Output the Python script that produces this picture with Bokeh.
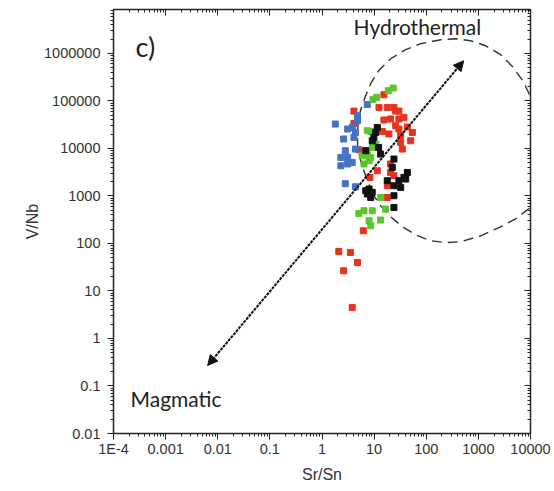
import numpy as np
from bokeh.plotting import figure
from bokeh.models import (FixedTicker, CustomJSTickFormatter, LogAxis, Arrow,
                          NormalHead, Label, Range1d)
from bokeh.embed import file_html
from bokeh.resources import INLINE

# ---------------- data ----------------
x_tick_exps = [-4, -3, -2, -1, 0, 1, 2, 3, 4]
x_tick_labels = ["1E-4", "0.001", "0.01", "0.1", "1", "10", "100", "1000", "10000"]
y_tick_exps = [-2, -1, 0, 1, 2, 3, 4, 5, 6]
y_tick_labels = ["0.01", "0.1", "1", "10", "100", "1000", "10000", "100000", "1000000"]

blue_x = [7.4, 4.8, 4.8, 3.8, 4.4, 3.1, 1.8, 2.6, 4.1, 4.4, 2.8, 3.1, 2.3, 3.8, 3.1, 2.3, 2.8, 4.4]
blue_y = [84000, 48700, 38300, 27700, 21700, 25600, 32600, 15800, 17100, 9700, 8950, 6470,
          6470, 5070, 4700, 4320, 1810, 1560]

red_x = [15.4, 4.1, 12.4, 17.9, 24.0, 29.9, 15.4, 20.7, 29.9, 37.3, 25.9, 29.9, 43.4, 14.4,
         19.2, 32.3, 54.1, 50.2, 32.3, 34.8, 4.1, 20.7, 24.0, 11.5, 20.7, 17.9, 6.2, 2.1,
         3.5, 4.8, 2.6, 3.8, 25.9, 5.1, 8.3, 17.9]
red_y = [135000, 61000, 73000, 73000, 73000, 61000, 39600, 41600, 41600, 45000, 30100, 25600,
         28200, 22800, 20100, 18500, 21700, 14500, 13400, 9700, 33600, 3120, 2660, 3390, 4700,
         930, 185, 67.9, 64.7, 39.8, 26.6, 4.5, 61000, 9400, 2450, 1640]

green_x = [23.3, 18.7, 11.2, 9.5, 7.4, 8.8, 10.7, 9.2, 6.9, 7.4, 5.9, 8.6, 8.0, 6.4, 13.3,
           9.2, 6.4, 5.1, 8.0, 8.6, 13.3, 16.6]
green_y = [187000, 164000, 119000, 108000, 23600, 22800, 12400, 10500, 8950, 7370, 7020, 6470,
           5510, 4700, 930, 488, 488, 428, 301, 236, 311, 530]

black_x = [11.5, 10.7, 9.9, 9.2, 13.3, 6.9, 24.0, 22.3, 43.4, 37.3, 29.9, 40.3, 17.9, 24.0,
           6.9, 8.0, 9.2, 7.4, 8.6, 24.0, 24.0, 32.3, 12.2]
black_y = [27700, 21700, 17100, 14500, 7620, 8950, 5980, 3980, 3120, 2450, 2090, 2270, 2090,
           1640, 1290, 1400, 1190, 1100, 930, 1010, 573, 1510, 10500]

# hydrothermal field outline (dashed)
field_x = [9.36, 6.87, 5.51, 4.82, 4.82, 5.04, 5.75, 6.87, 8.57, 12.2, 20.7, 40.3, 78.1, 189,
           367, 712, 1380, 2680, 4550, 7080, 9230, 11000, 15700, 17100, 14400, 9230, 5200,
           2680, 1110, 457, 236, 121, 62.7, 35.2, 20.7, 13.3, 9.36]
field_y = [1110, 2660, 5510, 11400, 23600, 44300, 75500, 128000, 230000, 432000, 773000,
           1.2e6, 1.6e6, 1.94e6, 2.04e6, 1.85e6, 1.45e6, 940000, 525000, 266000, 149000,
           79300, 23600, 5510, 1290, 538, 331, 224, 145, 109, 104, 114, 152, 224, 365, 622, 1110]

# magmatic -> hydrothermal trend arrow
arrow_start = (0.0064, 0.27)
arrow_end = (522, 7.0e5)

# ---------------- figure ----------------
p = figure(x_axis_type="log", y_axis_type="log",
           x_range=Range1d(1e-4, 1e4), y_range=Range1d(0.01, 8.4e6),
           frame_width=417, frame_height=424,
           min_border_left=113, min_border_right=24, min_border_top=9, min_border_bottom=50,
           output_backend="svg", toolbar_location=None, background_fill_color="white",
           border_fill_color="white")
p.grid.visible = False
p.outline_line_color = "#222222"

def minor_list(exps):
    return [k * 10.0 ** e for e in range(min(exps) - 1, max(exps) + 2) for k in range(2, 10)]

xt = FixedTicker(ticks=[10.0 ** e for e in x_tick_exps], minor_ticks=minor_list(x_tick_exps))
yt = FixedTicker(ticks=[10.0 ** e for e in y_tick_exps], minor_ticks=minor_list(y_tick_exps))

fmt_code = """
const e = Math.round(Math.log10(tick));
const i = exps.indexOf(e);
return i >= 0 ? labels[i] : "";
"""
xf = CustomJSTickFormatter(args=dict(exps=x_tick_exps, labels=x_tick_labels), code=fmt_code)
yf = CustomJSTickFormatter(args=dict(exps=y_tick_exps, labels=y_tick_labels), code=fmt_code)

for ax, tk, fm in ((p.xaxis[0], xt, xf), (p.yaxis[0], yt, yf)):
    ax.ticker = tk
    ax.formatter = fm
    ax.axis_line_color = "#222222"
    ax.axis_line_width = 1.5
    ax.major_tick_line_color = "#222222"
    ax.minor_tick_line_color = "#222222"
    ax.major_tick_out = 6
    ax.major_tick_in = 0
    ax.minor_tick_out = 3
    ax.minor_tick_in = 0
    ax.major_label_text_font = "Liberation Sans"
    ax.major_label_text_font_size = "14.5px"
    ax.major_label_text_color = "#333333"
    ax.axis_label_text_font = "Liberation Sans"
    ax.axis_label_text_font_size = "16px"
    ax.axis_label_text_font_style = "normal"
    ax.axis_label_text_color = "#333333"

p.xaxis.axis_label = "Sr/Sn"
p.yaxis.axis_label = "V/Nb"
p.xaxis.major_label_standoff = 1
p.yaxis.major_label_standoff = 7
p.xaxis.axis_label_standoff = 6
p.yaxis.axis_label_standoff = 0

top = LogAxis(ticker=xt, formatter=CustomJSTickFormatter(code="return ''"))
right = LogAxis(ticker=yt, formatter=CustomJSTickFormatter(code="return ''"))
for ax in (top, right):
    ax.axis_line_color = "#222222"
    ax.axis_line_width = 1.5
    ax.major_tick_line_color = "#222222"
    ax.minor_tick_line_color = "#222222"
    ax.major_tick_in = 6
    ax.major_tick_out = 0
    ax.minor_tick_in = 3
    ax.minor_tick_out = 0
    ax.major_label_text_font_size = "0px"
    ax.major_label_standoff = 0
p.add_layout(top, "above")
p.add_layout(right, "right")

# field outline
p.line(field_x, field_y, line_color="#333333", line_width=1.4, line_dash="10 6")

# points
msize = 6
p.scatter(red_x, red_y, marker="square", size=msize, fill_color="#e8321e", line_color="#e8321e")
p.scatter(blue_x, blue_y, marker="square", size=msize, fill_color="#4672c4", line_color="#4672c4")
p.scatter(green_x, green_y, marker="square", size=msize, fill_color="#5ac62a", line_color="#5ac62a")
p.scatter(black_x, black_y, marker="square", size=msize, fill_color="#111111", line_color="#111111")

# arrow
p.add_layout(Arrow(x_start=arrow_start[0], y_start=arrow_start[1],
                   x_end=arrow_end[0], y_end=arrow_end[1],
                   line_color="#111111", line_width=2, line_dash="3 1",
                   start=NormalHead(size=10, fill_color="#111111", line_color="#111111"),
                   end=NormalHead(size=10, fill_color="#111111", line_color="#111111")))

# annotations
p.add_layout(Label(x=2.64e-4, y=1.38e6, text="c)", text_font="Lato", text_font_size="27px",
                   text_color="#222222", text_baseline="alphabetic"))
p.add_layout(Label(x=4.04, y=3.65e6, text="Hydrothermal", text_font="Lato",
                   text_font_size="21px", text_color="#222222", text_baseline="alphabetic"))
p.add_layout(Label(x=2.12e-4, y=0.054, text="Magmatic", text_font="Lato",
                   text_font_size="21px", text_color="#222222", text_baseline="alphabetic"))

open("out.html", "w").write(file_html(p, INLINE))
